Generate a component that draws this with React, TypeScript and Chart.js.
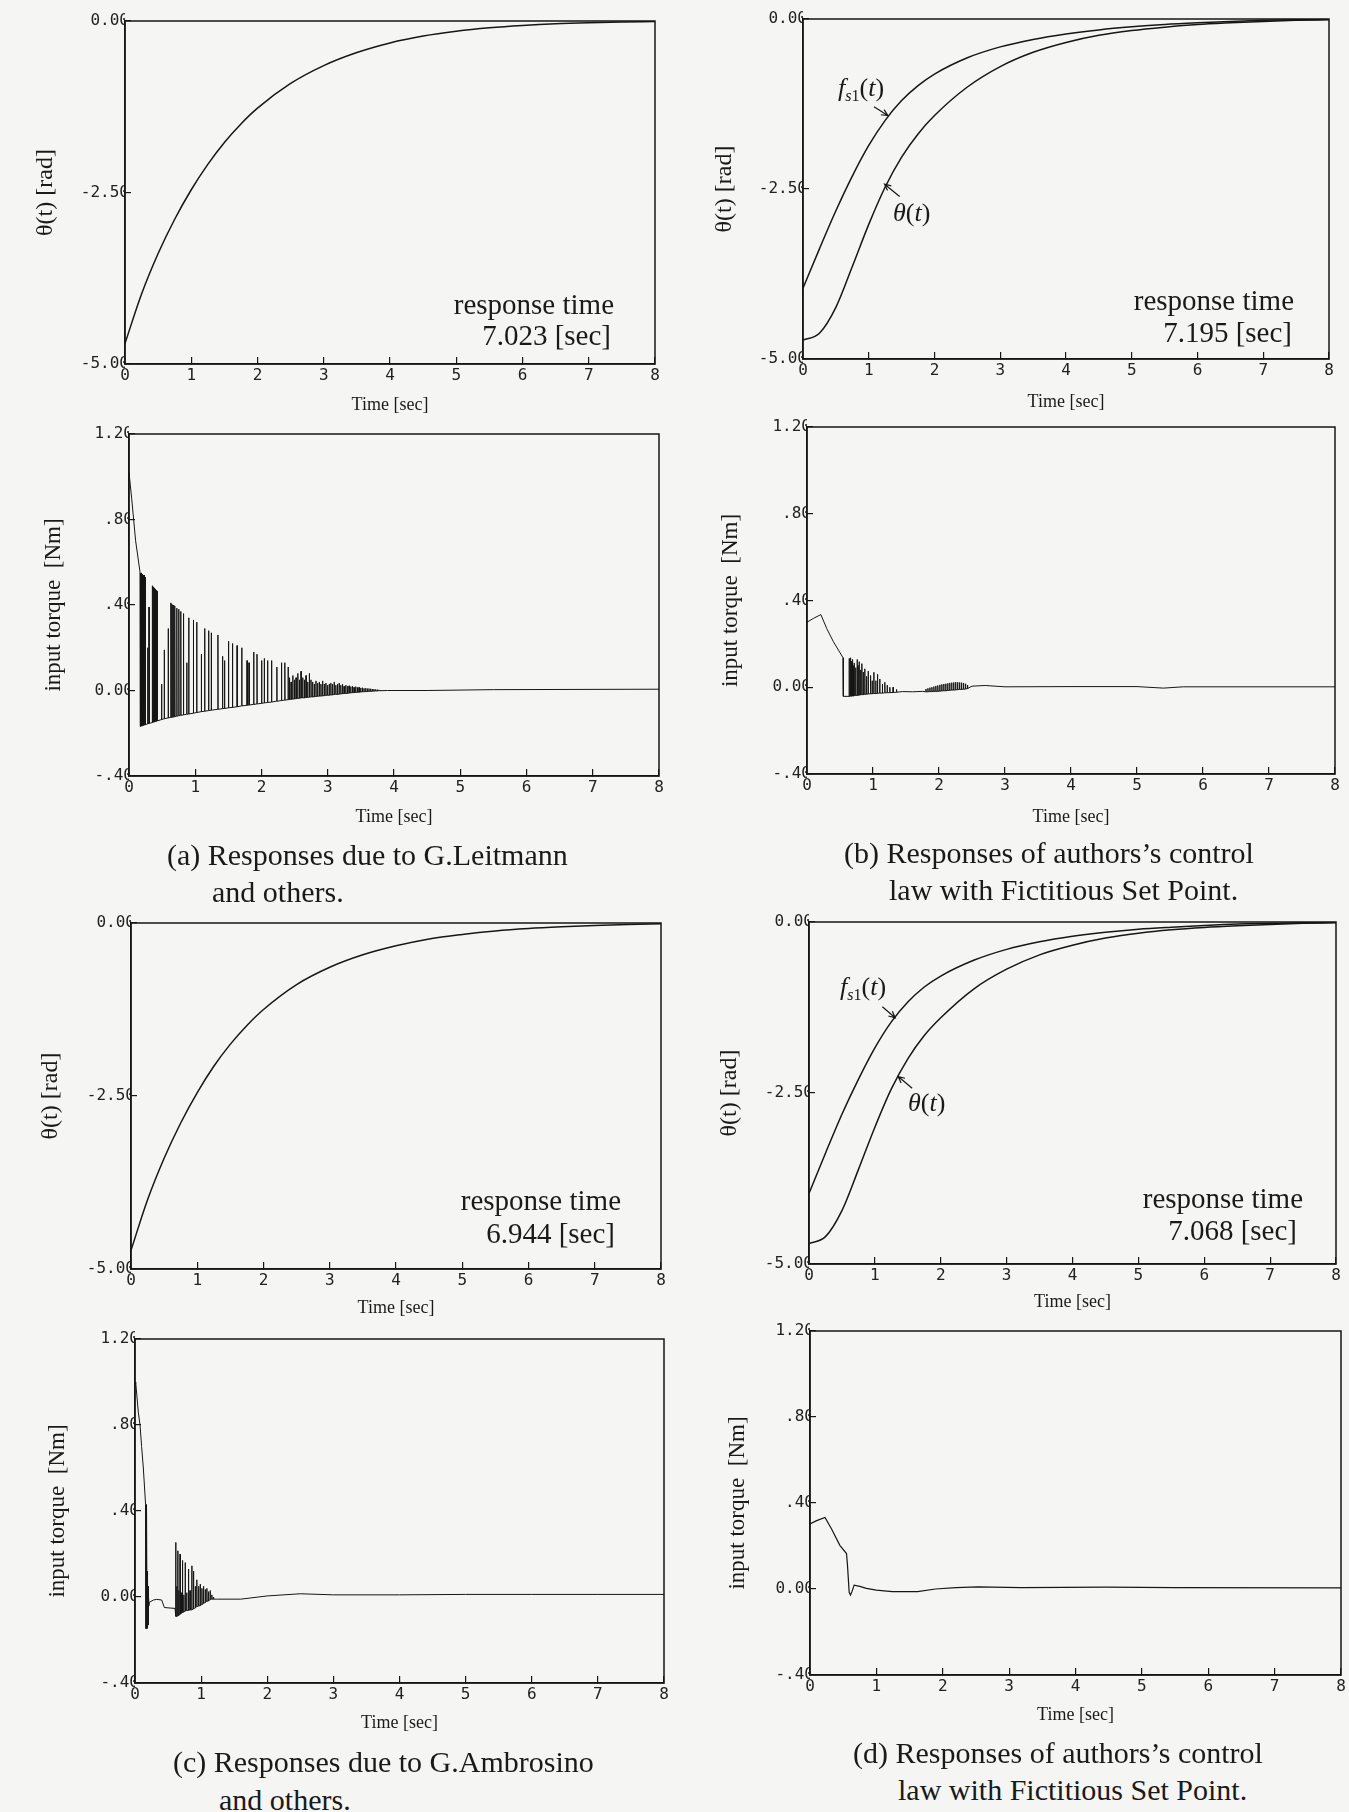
import React, { useEffect, useRef } from 'react';
import { Chart, registerables } from 'chart.js';
Chart.register(...registerables);

// ---------------- data ----------------
const timeTicks = [0, 1, 2, 3, 4, 5, 6, 7, 8];
const timeTickLabels = ['0', '1', '2', '3', '4', '5', '6', '7', '8'];
const thetaTicks = [-5, -2.5, 0];
const thetaTickLabels = ['-5.00', '-2.50', '0.00'];
const torqueTicks = [-0.4, 0, 0.4, 0.8, 1.2];
const torqueTickLabels = ['-.40', '0.00', '.40', '.80', '1.20'];

const thetaTime = [0, 0.25, 0.5, 0.75, 1, 1.25, 1.5, 1.75, 2, 2.5, 3, 3.5, 4, 4.5, 5, 5.5, 6, 6.5, 7, 7.5, 8];
const thetaA = [-4.70, -3.98, -3.39, -2.89, -2.46, -2.09, -1.77, -1.50, -1.27, -0.91, -0.65, -0.46, -0.32, -0.22, -0.15, -0.10, -0.065, -0.04, -0.025, -0.015, -0.008];
const thetaB = [-4.72, -4.62, -4.24, -3.64, -3.02, -2.47, -2.03, -1.69, -1.42, -1.00, -0.70, -0.49, -0.345, -0.24, -0.17, -0.12, -0.08, -0.055, -0.035, -0.02, -0.01];
const fs1B = [-3.96, -3.38, -2.82, -2.31, -1.86, -1.49, -1.20, -0.98, -0.81, -0.57, -0.41, -0.30, -0.22, -0.16, -0.115, -0.08, -0.055, -0.035, -0.02, -0.01, -0.005];
const thetaC = [-4.73, -4.00, -3.40, -2.89, -2.45, -2.07, -1.75, -1.48, -1.25, -0.89, -0.64, -0.46, -0.33, -0.23, -0.165, -0.115, -0.08, -0.055, -0.035, -0.02, -0.01];
const thetaD = [-4.70, -4.60, -4.22, -3.62, -3.00, -2.44, -2.00, -1.66, -1.40, -0.98, -0.69, -0.48, -0.34, -0.235, -0.165, -0.115, -0.08, -0.055, -0.035, -0.02, -0.01];
const fs1D = [-3.97, -3.38, -2.81, -2.30, -1.84, -1.46, -1.17, -0.95, -0.79, -0.56, -0.40, -0.29, -0.21, -0.15, -0.105, -0.075, -0.05, -0.03, -0.02, -0.01, -0.005];

// torque (a)
const torqueA_leadT = [0, 0.04, 0.1, 0.166];
const torqueA_leadV = [1.02, 0.90, 0.70, 0.555];
const torqueA_spikeT = [0.17, 0.185, 0.20, 0.215, 0.23, 0.245, 0.28, 0.30, 0.35, 0.365, 0.38, 0.395, 0.41, 0.425, 0.49, 0.53, 0.59, 0.63, 0.645, 0.66, 0.675, 0.69, 0.72, 0.75, 0.78, 0.82,
  0.87, 0.90, 0.97, 1.02, 1.09, 1.14, 1.20, 1.24, 1.34, 1.41, 1.44, 1.50, 1.56, 1.63, 1.70, 1.78, 1.81, 1.88, 1.93, 2.00, 2.04, 2.09, 2.15, 2.23, 2.30, 2.35, 2.40];
const torqueA_spikeHigh = [0.55, 0.55, 0.545, 0.54, 0.54, 0.53, 0.20, 0.39, 0.49, 0.485, 0.48, 0.475, 0.47, 0.465, 0.03, 0.19, 0.29, 0.41, 0.405, 0.40, 0.40, 0.395, 0.385, 0.38, 0.37, 0.36,
  0.13, 0.34, 0.33, 0.32, 0.17, 0.29, 0.28, 0.27, 0.26, 0.16, 0.14, 0.23, 0.22, 0.21, 0.20, 0.14, 0.13, 0.18, 0.17, 0.14, 0.15, 0.14, 0.14, 0.11, 0.13, 0.13, 0.11];
const torqueA_spikeLow = [-0.168, -0.166, -0.165, -0.163, -0.161, -0.16, -0.156, -0.154, -0.15, -0.148, -0.147, -0.145, -0.144, -0.142, -0.136, -0.132, -0.128, -0.126, -0.125, -0.124, -0.123, -0.122, -0.12, -0.118, -0.116, -0.114,
  -0.111, -0.11, -0.106, -0.103, -0.099, -0.097, -0.094, -0.092, -0.088, -0.085, -0.084, -0.081, -0.079, -0.076, -0.072, -0.069, -0.068, -0.065, -0.063, -0.06, -0.058, -0.056, -0.054, -0.05, -0.047, -0.045, -0.043];
const torqueA_blobT = [2.42, 2.445, 2.47, 2.495, 2.52, 2.545, 2.57, 2.595, 2.62, 2.645, 2.67, 2.695, 2.72, 2.745, 2.77, 2.795, 2.82, 2.845, 2.87, 2.895, 2.92, 2.945, 2.97, 2.995, 3.02, 3.045, 3.07, 3.095,
  3.12, 3.145, 3.17, 3.195, 3.22, 3.245, 3.27, 3.295, 3.32, 3.345, 3.37, 3.395, 3.42, 3.445, 3.47, 3.495, 3.52, 3.545, 3.57, 3.595, 3.62, 3.645, 3.67, 3.695, 3.72, 3.745, 3.77, 3.795];
const torqueA_blobHigh = [0.06, 0.04, 0.07, 0.05, 0.06, 0.08, 0.05, 0.09, 0.06, 0.05, 0.07, 0.04, 0.08, 0.05, 0.04, 0.03, 0.045, 0.035, 0.04, 0.03, 0.045, 0.03, 0.035, 0.025, 0.03, 0.035, 0.03, 0.04,
  0.025, 0.03, 0.035, 0.025, 0.03, 0.02, 0.025, 0.02, 0.022, 0.018, 0.02, 0.015, 0.018, 0.014, 0.015, 0.012, 0.013, 0.01, 0.011, 0.009, 0.009, 0.008, 0.007, 0.006, 0.005, 0.004, 0.003, 0.002];
const torqueA_blobLow = [-0.042, -0.041, -0.04, -0.039, -0.038, -0.037, -0.036, -0.035, -0.034, -0.034, -0.033, -0.032, -0.031, -0.03, -0.03, -0.029, -0.028, -0.027, -0.026, -0.026, -0.025, -0.024, -0.023, -0.022, -0.022, -0.021, -0.02, -0.019,
  -0.018, -0.018, -0.017, -0.016, -0.015, -0.014, -0.014, -0.013, -0.012, -0.011, -0.01, -0.01, -0.009, -0.008, -0.008, -0.007, -0.006, -0.006, -0.005, -0.005, -0.004, -0.004, -0.003, -0.003, -0.002, -0.002, -0.001, -0.001];
const torqueA_tailT = [3.9, 4.5, 5.5, 8];
const torqueA_tailV = [0, 0, 0.004, 0.006];

// torque (b)
const torqueB_leadT = [0, 0.1, 0.21, 0.3, 0.4, 0.546, 0.55];
const torqueB_leadV = [0.30, 0.318, 0.335, 0.27, 0.21, 0.136, -0.042];
const torqueB_chat1T = [0.637, 0.657, 0.672, 0.687, 0.70, 0.713, 0.735, 0.758, 0.773, 0.788, 0.81, 0.829, 0.85, 0.874, 0.90, 0.925, 0.96, 0.985, 1.01, 1.04, 1.066, 1.10, 1.14, 1.177, 1.213, 1.253, 1.303, 1.354];
const torqueB_chat1High = [0.133, 0.136, 0.12, 0.128, 0.10, 0.112, 0.09, 0.128, 0.10, 0.118, 0.08, 0.109, 0.07, 0.085, 0.05, 0.075, 0.054, 0.03, 0.069, 0.03, 0.06, 0.038, 0.015, 0.023, 0.01, 0.0, 0.0, -0.01];
const torqueB_chat1Low = [-0.042, -0.041, -0.041, -0.04, -0.04, -0.039, -0.038, -0.037, -0.037, -0.036, -0.035, -0.034, -0.034, -0.033, -0.032, -0.031, -0.03, -0.03, -0.029, -0.029, -0.028, -0.027, -0.027, -0.026, -0.025, -0.025, -0.024, -0.023];
const torqueB_midT = [1.45, 1.6, 1.75];
const torqueB_midV = [-0.02, -0.021, -0.019];
const torqueB_chat2T = [1.80, 1.83, 1.86, 1.89, 1.92, 1.95, 1.98, 2.01, 2.04, 2.07, 2.10, 2.13, 2.16, 2.19, 2.22, 2.25, 2.28, 2.31, 2.34, 2.37, 2.40, 2.43];
const torqueB_chat2High = [-0.008, -0.005, -0.002, 0.0, 0.003, 0.006, 0.008, 0.011, 0.013, 0.015, 0.016, 0.018, 0.02, 0.021, 0.022, 0.023, 0.023, 0.022, 0.021, 0.019, 0.016, 0.01];
const torqueB_chat2Low = [-0.021, -0.021, -0.02, -0.02, -0.02, -0.019, -0.019, -0.018, -0.017, -0.016, -0.016, -0.015, -0.014, -0.013, -0.013, -0.012, -0.011, -0.01, -0.01, -0.009, -0.008, -0.006];
const torqueB_tailT = [2.5, 2.7, 3.0, 4, 5, 5.4, 5.7, 8];
const torqueB_tailV = [0.005, 0.008, 0.002, 0.003, 0.003, -0.004, 0.002, 0.002];

// torque (c)
const torqueC_leadT = [0, 0.01, 0.05, 0.076, 0.1, 0.126, 0.16];
const torqueC_leadV = [0.99, 1.0, 0.86, 0.80, 0.70, 0.60, 0.43];
const torqueC_chat1T = [0.163, 0.168, 0.173, 0.178, 0.183, 0.188, 0.193, 0.198, 0.203, 0.208];
const torqueC_chat1High = [0.43, 0.43, 0.43, 0.42, 0.12, 0.10, 0.08, 0.05, 0.03, 0.0];
const torqueC_chat1Low = [-0.147, -0.147, -0.147, -0.146, -0.145, -0.14, -0.13, -0.11, -0.08, -0.04];
const torqueC_midT = [0.212, 0.278, 0.328, 0.404, 0.444, 0.605];
const torqueC_midV = [-0.026, -0.014, -0.011, -0.014, -0.049, -0.053];
const torqueC_chat2T = [0.615, 0.63, 0.645, 0.66, 0.68, 0.70, 0.716, 0.735, 0.757, 0.78, 0.807, 0.83, 0.857, 0.883, 0.91, 0.933, 0.96, 0.984, 1.01, 1.034, 1.06, 1.085, 1.11, 1.135, 1.16, 1.185];
const torqueC_chat2High = [0.254, 0.05, 0.215, 0.03, 0.20, 0.02, 0.17, 0.01, 0.16, 0.02, 0.13, 0.03, 0.145, 0.12, 0.05, 0.08, 0.05, 0.06, 0.04, 0.05, 0.035, 0.04, 0.025, 0.03, 0.01, 0.0];
const torqueC_chat2Low = [-0.09, -0.09, -0.088, -0.085, -0.08, -0.075, -0.072, -0.07, -0.065, -0.063, -0.062, -0.06, -0.06, -0.055, -0.05, -0.045, -0.042, -0.04, -0.035, -0.03, -0.025, -0.02, -0.018, -0.012, -0.01, -0.01];
const torqueC_tailT = [1.25, 1.6, 2.0, 2.5, 3.0, 4, 5, 6, 7, 8];
const torqueC_tailV = [-0.01, -0.01, 0.005, 0.015, 0.01, 0.01, 0.012, 0.012, 0.012, 0.012];

// torque (d)
const torqueD_T = [0, 0.1, 0.226, 0.323, 0.45, 0.55, 0.565, 0.59, 0.61, 0.635, 0.665, 0.75, 0.85, 1.0, 1.24, 1.62, 1.89, 2.2, 2.53, 3.18, 4.46, 5.5, 8];
const torqueD_V = [0.303, 0.318, 0.333, 0.28, 0.203, 0.165, 0.11, -0.015, -0.028, -0.01, 0.018, 0.012, 0.003, -0.005, -0.012, -0.012, 0.0, 0.006, 0.01, 0.006, 0.009, 0.006, 0.005];

// annotation arrows (data coordinates: [time, value])
const arrowsB = [{ from: [1.08, -1.29], to: [1.29, -1.42] }, { from: [1.47, -2.61], to: [1.24, -2.43] }];
const arrowsD = [{ from: [1.114, -1.24], to: [1.308, -1.40] }, { from: [1.566, -2.43], to: [1.354, -2.26] }];

// ---------------- helpers ----------------
type Pt = { x: number; y: number };
const line = (T: number[], V: number[]): Pt[] => T.map((t, i) => ({ x: t, y: V[i] }));
const chatter = (T: number[], H: number[], L: number[]): Pt[] => {
  const out: Pt[] = [];
  T.forEach((t, i) => {
    out.push({ x: t, y: L[i] }, { x: t + 0.002, y: H[i] }, { x: t + 0.005, y: L[i] });
  });
  return out;
};

const SERIF = '"Liberation Serif", "Times New Roman", serif';
const MONO = '"DejaVu Sans Mono", "Liberation Mono", monospace';
const INK = '#161616';
const AX_W = 110;
const AX_H = 60;
const PAD_T = 15;
const PAD_R = 15;

type Series = { points: Pt[]; smooth: boolean; width: number };
type Panel = {
  key: string;
  kind: 'theta' | 'torque';
  l: number; t: number; r: number; b: number;
  yTitleX: number; xTitleY: number;
  series: Series[];
  arrows?: { from: number[]; to: number[] }[];
};

const panels: Panel[] = [
  { key: 'a1', kind: 'theta', l: 125, t: 21, r: 655, b: 364, yTitleX: 46, xTitleY: 405,
    series: [{ points: line(thetaTime, thetaA), smooth: true, width: 1.5 }] },
  { key: 'b1', kind: 'theta', l: 803, t: 19, r: 1329, b: 359, yTitleX: 725, xTitleY: 402,
    series: [{ points: line(thetaTime, fs1B), smooth: true, width: 1.5 }, { points: line(thetaTime, thetaB), smooth: true, width: 1.5 }],
    arrows: arrowsB },
  { key: 'a2', kind: 'torque', l: 129, t: 434, r: 659, b: 776, yTitleX: 54, xTitleY: 817,
    series: [{ points: [...line(torqueA_leadT, torqueA_leadV), ...chatter(torqueA_spikeT, torqueA_spikeHigh, torqueA_spikeLow), ...chatter(torqueA_blobT, torqueA_blobHigh, torqueA_blobLow), ...line(torqueA_tailT, torqueA_tailV)], smooth: false, width: 1 }] },
  { key: 'b2', kind: 'torque', l: 807, t: 427, r: 1335, b: 774, yTitleX: 731, xTitleY: 817,
    series: [{ points: [...line(torqueB_leadT, torqueB_leadV), ...chatter(torqueB_chat1T, torqueB_chat1High, torqueB_chat1Low), ...line(torqueB_midT, torqueB_midV), ...chatter(torqueB_chat2T, torqueB_chat2High, torqueB_chat2Low), ...line(torqueB_tailT, torqueB_tailV)], smooth: false, width: 1 }] },
  { key: 'c1', kind: 'theta', l: 131, t: 923, r: 661, b: 1269, yTitleX: 51, xTitleY: 1308,
    series: [{ points: line(thetaTime, thetaC), smooth: true, width: 1.5 }] },
  { key: 'd1', kind: 'theta', l: 809, t: 922, r: 1336, b: 1264, yTitleX: 730, xTitleY: 1302,
    series: [{ points: line(thetaTime, fs1D), smooth: true, width: 1.5 }, { points: line(thetaTime, thetaD), smooth: true, width: 1.5 }],
    arrows: arrowsD },
  { key: 'c2', kind: 'torque', l: 135, t: 1339, r: 664, b: 1683, yTitleX: 58, xTitleY: 1723,
    series: [{ points: [...line(torqueC_leadT, torqueC_leadV), ...chatter(torqueC_chat1T, torqueC_chat1High, torqueC_chat1Low), ...line(torqueC_midT, torqueC_midV), ...chatter(torqueC_chat2T, torqueC_chat2High, torqueC_chat2Low), ...line(torqueC_tailT, torqueC_tailV)], smooth: false, width: 1 }] },
  { key: 'd2', kind: 'torque', l: 810, t: 1331, r: 1341, b: 1675, yTitleX: 738, xTitleY: 1715,
    series: [{ points: line(torqueD_T, torqueD_V), smooth: false, width: 1.2 }] },
];

const framePlugin = {
  id: 'frame',
  afterDraw(chart: any) {
    const { ctx, chartArea } = chart;
    ctx.save();
    ctx.strokeStyle = INK;
    ctx.lineWidth = 1.5;
    ctx.strokeRect(chartArea.left, chartArea.top, chartArea.right - chartArea.left, chartArea.bottom - chartArea.top);
    ctx.restore();
  },
};

const arrowPlugin = {
  id: 'arrows',
  afterDatasetsDraw(chart: any, _args: any, opts: any) {
    const items = (opts && opts.items) || [];
    const xs = chart.scales.x;
    const ys = chart.scales.y;
    const ctx = chart.ctx;
    ctx.save();
    ctx.strokeStyle = INK;
    ctx.lineWidth = 1.2;
    items.forEach((a: any) => {
      const x1 = xs.getPixelForValue(a.from[0]);
      const y1 = ys.getPixelForValue(a.from[1]);
      const x2 = xs.getPixelForValue(a.to[0]);
      const y2 = ys.getPixelForValue(a.to[1]);
      const ang = Math.atan2(y2 - y1, x2 - x1);
      const hl = 7;
      ctx.beginPath();
      ctx.moveTo(x1, y1);
      ctx.lineTo(x2, y2);
      ctx.moveTo(x2 - hl * Math.cos(ang - 0.45), y2 - hl * Math.sin(ang - 0.45));
      ctx.lineTo(x2, y2);
      ctx.lineTo(x2 - hl * Math.cos(ang + 0.45), y2 - hl * Math.sin(ang + 0.45));
      ctx.stroke();
    });
    ctx.restore();
  },
};

function makeConfig(p: Panel): any {
  const isTheta = p.kind === 'theta';
  const yTicks = isTheta ? thetaTicks : torqueTicks;
  const yLabels = isTheta ? thetaTickLabels : torqueTickLabels;
  const canvasLeft = p.l - AX_W;
  const yTitleSize = isTheta ? 24 : 23;
  const xTitleSize = 18;
  const yPad = p.yTitleX - canvasLeft - (yTitleSize * 1.2) / 2;
  const xPad = p.b + AX_H - p.xTitleY - (xTitleSize * 1.2) / 2;
  const tickFont = { family: MONO, size: 16, lineHeight: 1.2 };
  return {
    type: 'line',
    data: {
      datasets: p.series.map((s) => ({
        data: s.points,
        borderColor: INK,
        borderWidth: s.width,
        pointRadius: 0,
        fill: false,
        tension: s.smooth ? 0.4 : 0,
        cubicInterpolationMode: s.smooth ? 'monotone' : 'default',
      })),
    },
    options: {
      animation: false,
      responsive: false,
      maintainAspectRatio: false,
      events: [],
      layout: { padding: { top: PAD_T, right: PAD_R, left: 0, bottom: 0 } },
      plugins: {
        legend: { display: false },
        tooltip: { enabled: false },
        arrows: { items: p.arrows || [] },
      },
      scales: {
        x: {
          type: 'linear',
          min: 0,
          max: 8,
          afterFit: (s: any) => { s.height = AX_H; },
          afterBuildTicks: (s: any) => { s.ticks = timeTicks.map((v) => ({ value: v })); },
          ticks: {
            autoSkip: false,
            maxRotation: 0,
            padding: 9,
            font: tickFont,
            color: '#222',
            callback: (_v: any, i: number) => timeTickLabels[i],
          },
          grid: { drawOnChartArea: false, drawTicks: true, tickLength: -7, color: INK, lineWidth: 1.2 },
          border: { display: true, color: INK, width: 1.5 },
          title: {
            display: true,
            text: 'Time [sec]',
            color: '#1a1a1a',
            font: { family: SERIF, size: xTitleSize, lineHeight: 1.2 },
            padding: { top: 0, bottom: xPad },
          },
        },
        y: {
          type: 'linear',
          min: yTicks[0],
          max: yTicks[yTicks.length - 1],
          afterFit: (s: any) => { s.width = AX_W; },
          afterBuildTicks: (s: any) => { s.ticks = yTicks.map((v) => ({ value: v })); },
          ticks: {
            autoSkip: false,
            padding: 2,
            font: tickFont,
            color: '#222',
            callback: (_v: any, i: number) => yLabels[i],
          },
          grid: { drawOnChartArea: false, drawTicks: true, tickLength: -6, color: INK, lineWidth: 1.2 },
          border: { display: true, color: INK, width: 1.5 },
          title: {
            display: true,
            text: isTheta ? 'θ(t) [rad]' : 'input torque  [Nm]',
            color: '#1a1a1a',
            font: { family: SERIF, size: yTitleSize, lineHeight: 1.2 },
            padding: { top: yPad, bottom: 0 },
          },
        },
      },
    },
    plugins: [framePlugin, arrowPlugin],
  };
}

function PanelChart({ p }: { p: Panel }) {
  const ref = useRef<HTMLCanvasElement | null>(null);
  const w = p.r - p.l + AX_W + PAD_R;
  const h = p.b - p.t + PAD_T + AX_H;
  useEffect(() => {
    if (!ref.current) return;
    const chart = new Chart(ref.current, makeConfig(p));
    return () => chart.destroy();
  }, [p]);
  return (
    <canvas
      ref={ref}
      width={w}
      height={h}
      style={{ position: 'absolute', left: p.l - AX_W, top: p.t - PAD_T, width: w, height: h }}
    />
  );
}

function Txt({ x, y, size, align = 'left', children }: { x: number; y: number; size: number; align?: 'left' | 'right'; children: React.ReactNode }) {
  const lh = size * 1.2;
  const style: React.CSSProperties = {
    position: 'absolute',
    top: y - lh / 2,
    fontFamily: SERIF,
    fontSize: size,
    lineHeight: `${lh}px`,
    whiteSpace: 'nowrap',
    color: '#1a1a1a',
  };
  if (align === 'right') style.right = 1349 - x;
  else style.left = x;
  return <div style={style}>{children}</div>;
}

const Fs1 = () => (
  <span>
    <i>f</i>
    <span style={{ fontSize: '0.62em', position: 'relative', top: '0.3em' }}><i>s</i>1</span>
    (<i>t</i>)
  </span>
);
const Th = () => (
  <span>
    <i>θ</i>(<i>t</i>)
  </span>
);

export default function App() {
  return (
    <div style={{ position: 'absolute', left: 0, top: 0, width: 1349, height: 1812, background: '#f5f5f3', overflow: 'hidden' }}>
      {panels.map((p) => <PanelChart key={p.key} p={p} />)}

      <Txt x={614} y={304} size={29} align="right">response time</Txt>
      <Txt x={611} y={335} size={29} align="right">7.023 [sec]</Txt>
      <Txt x={1294} y={300} size={29} align="right">response time</Txt>
      <Txt x={1292} y={332} size={29} align="right">7.195 [sec]</Txt>
      <Txt x={621} y={1200} size={29} align="right">response time</Txt>
      <Txt x={615} y={1233} size={29} align="right">6.944 [sec]</Txt>
      <Txt x={1303} y={1198} size={29} align="right">response time</Txt>
      <Txt x={1297} y={1230} size={29} align="right">7.068 [sec]</Txt>

      <Txt x={838} y={88} size={26}><Fs1 /></Txt>
      <Txt x={893} y={213} size={26}><Th /></Txt>
      <Txt x={840} y={987} size={26}><Fs1 /></Txt>
      <Txt x={908} y={1103} size={26}><Th /></Txt>

      <Txt x={167} y={855} size={30}>(a) Responses due to G.Leitmann</Txt>
      <Txt x={212} y={892} size={30}>and others.</Txt>
      <Txt x={844} y={853} size={30}>(b) Responses of authors’s control</Txt>
      <Txt x={889} y={890} size={30}>law with Fictitious Set Point.</Txt>
      <Txt x={173} y={1762} size={30}>(c) Responses due to G.Ambrosino</Txt>
      <Txt x={219} y={1800} size={30}>and others.</Txt>
      <Txt x={853} y={1753} size={30}>(d) Responses of authors’s control</Txt>
      <Txt x={898} y={1790} size={30}>law with Fictitious Set Point.</Txt>
    </div>
  );
}
